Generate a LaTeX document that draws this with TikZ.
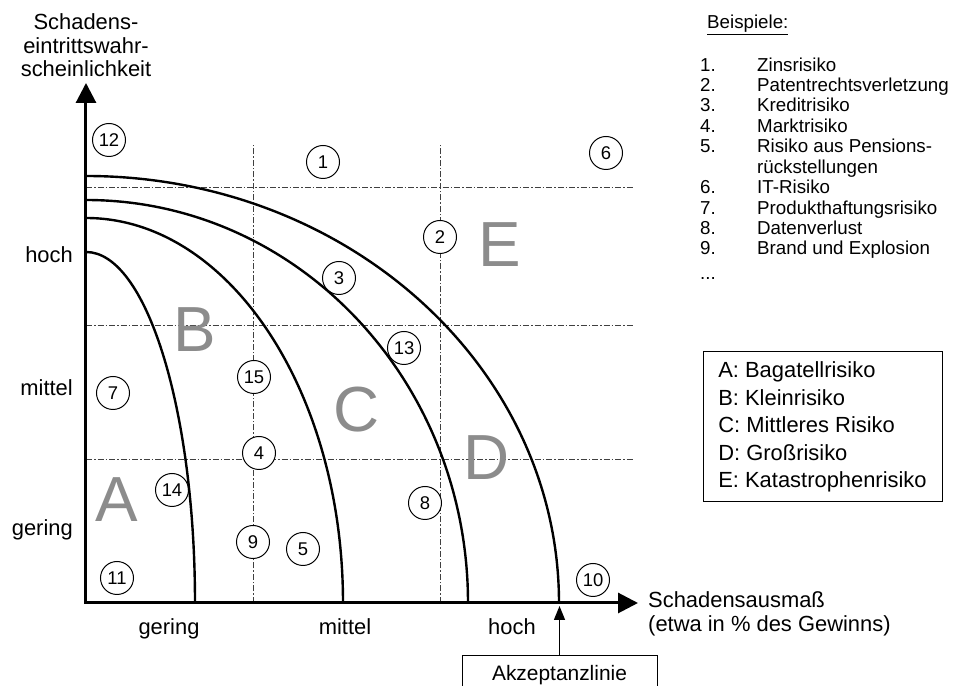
\documentclass[tikz,border=0pt]{standalone}
\usepackage{fontspec}
\setmainfont{Liberation Sans}
\usetikzlibrary{arrows.meta}

\tikzset{
  achse/.style={line width=3bp,{Triangle[length=20bp,width=20bp]}-{Triangle[length=20bp,width=20bp]}},
  kurve/.style={line width=2.4bp},
  raster/.style={line width=.8bp,black!75,dash pattern=on 6bp off 2bp on 1.5bp off 2bp},
  nr/.style={circle,draw,line width=1bp,fill=white,minimum size=33bp,inner sep=0pt,font=\fontsize{18.5}{18.5}\selectfont},
  klasse/.style={text=black!45,inner sep=0pt,font=\fontsize{64}{64}\selectfont},
  beschr/.style={inner sep=0pt,font=\fontsize{22}{23.5}\selectfont},
}

\begin{document}
\begin{tikzpicture}[x=1bp,y=1bp]
  \useasboundingbox (-86,-83) rectangle (871,603);
  % Raster
  \foreach \x in {167,354}
    \draw[raster] (\x,0) -- (\x,458);
  \foreach \y in {144,278,416}
    \draw[raster] (0,\y) -- (547,\y);
  % Beispiele im Diagramm
  \foreach \n/\x/\y in {1/237/441,2/354/366,3/253/325,4/173/150,5/217/54,6/520/450,7/27/210,
                        8/339/100,9/167/61,10/507/23,11/31/25,12/23/463,13/318/255,14/86/113,15/168/226}
    \node[nr] (r\n) at (\x,\y) {\n};
  % Risikoklassen
  \node[klasse] (kA) at (31,103) {A};
  \node[klasse] (kB) at (109,273) {B};
  \node[klasse] (kC) at (271,193) {C};
  \node[klasse] (kD) at (401,145) {D};
  \node[klasse] (kE) at (414,358) {E};
  % Grenzkurven
  \foreach \a/\b in {109/351,257/385,382/403,473/427}
    \draw[kurve] (0,\b) arc[start angle=90,end angle=0,x radius=\a,y radius=\b];
  % Achsen
  \draw[achse] (0,520) -- (0,0) -- (552,0);
  \node[beschr,align=center,anchor=south] (ylab) at (0,526) {Schadens-\\eintrittswahr-\\scheinlichkeit};
  \node[beschr,align=left,anchor=north west,font=\fontsize{22}{25}\selectfont] (xlab) at (562,12)
    {Schadensausmaß\\(etwa in \% des Gewinns)};
  \foreach \t/\x in {gering/83,mittel/259,hoch/426}
    \node[beschr,anchor=base] (x\t) at (\x,-32) {\t};
  \foreach \t/\y in {hoch/340,mittel/207,gering/67}
    \node[beschr,anchor=base east] (y\t) at (-13,\y) {\t};
  % Akzeptanzlinie
  \node[draw,line width=1bp,beschr,font=\fontsize{21}{21}\selectfont,minimum width=195bp,minimum height=39bp,anchor=north]
    (akz) at (473.5,-52) {Akzeptanzlinie};
  \coordinate (akzende) at (473.5,-3);
  \draw[line width=1.5bp,-{Triangle[length=14bp,width=11bp]}] (akz) -- (akzende);
  % Legenden
  \node[anchor=base west,inner sep=0pt,font=\fontsize{18.8}{20.5}\selectfont] (bsp) at (621,574) {\underline{Beispiele:}};
  \node[anchor=north west,inner sep=0pt,font=\fontsize{18.8}{20.5}\selectfont] (liste) at (614,546.35)
    {\begin{tabular}{@{}p{57bp}@{}l@{}}
      1. & Zinsrisiko\\
      2. & Patentrechtsverletzung\\
      3. & Kreditrisiko\\
      4. & Marktrisiko\\
      5. & Risiko aus Pensions-\\
         & rückstellungen\\
      6. & IT-Risiko\\
      7. & Produkthaftungsrisiko\\
      8. & Datenverlust\\
      9. & Brand und Explosion\\[4bp]
      ... &
    \end{tabular}};
  \node[draw,line width=1bp,beschr,align=left,minimum width=239bp,minimum height=150bp,inner xsep=10bp,
        font=\fontsize{22}{27.75}\selectfont] (klassen) at (736.5,176)
    {A: Bagatellrisiko\\B: Kleinrisiko\\C: Mittleres Risiko\\D: Großrisiko\\E: Katastrophenrisiko};
\end{tikzpicture}
\end{document}
